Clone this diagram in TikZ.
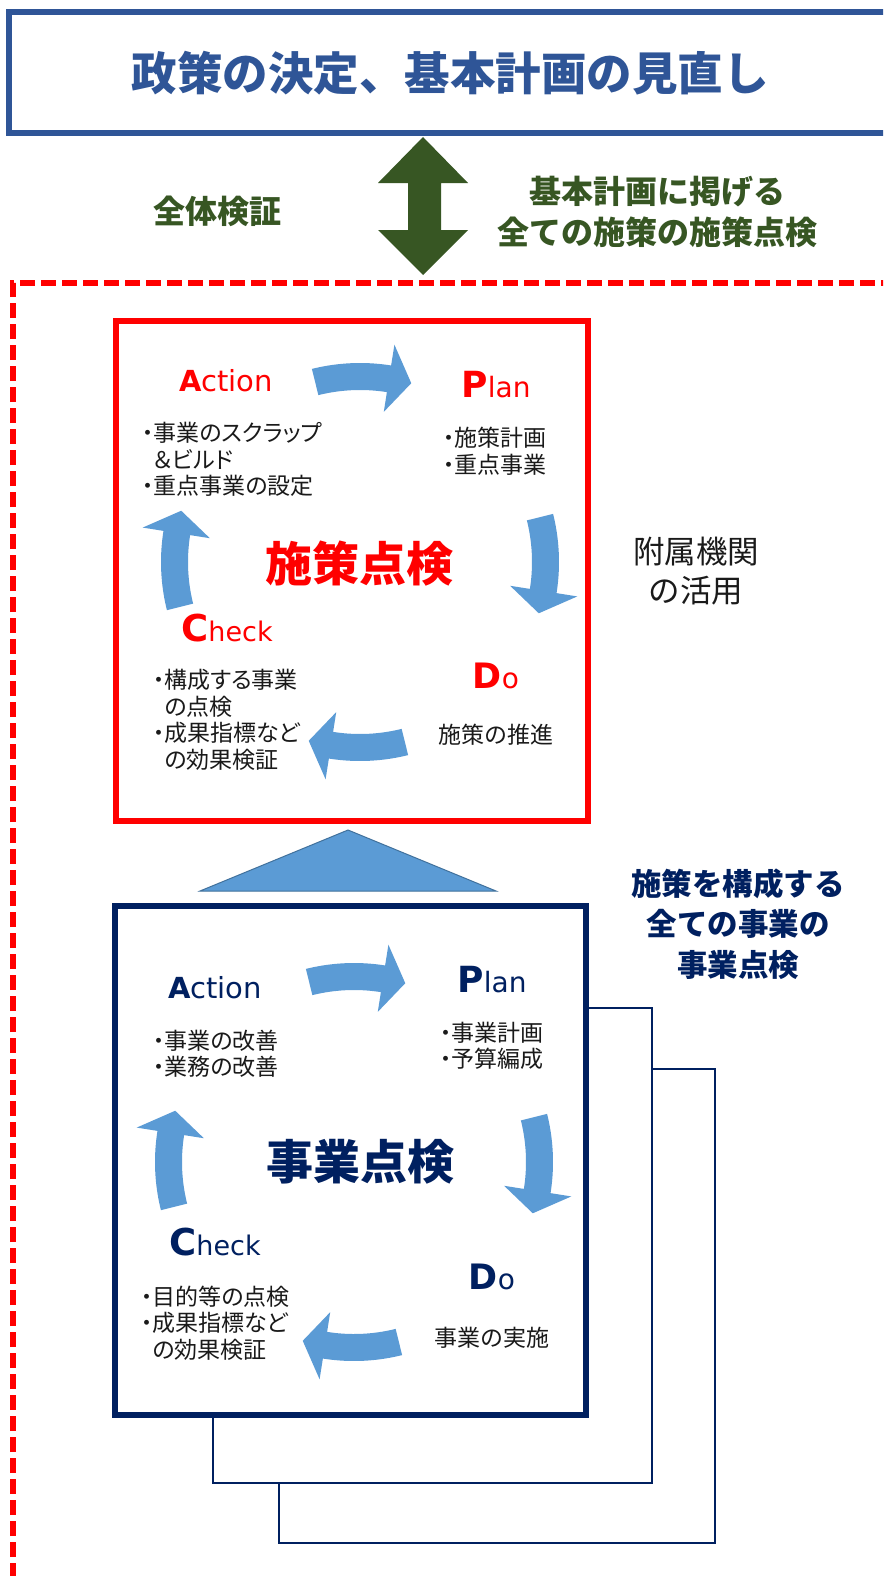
\documentclass[tikz,border=0pt]{standalone}
\usepackage{fontspec}
\setmainfont{Noto Sans CJK JP}
\newfontfamily\jpp[RawFeature=+palt]{Noto Sans CJK JP}
\newfontfamily\lat{DejaVu Sans}
\definecolor{titleblue}{HTML}{2F5597}
\definecolor{darkgreen}{HTML}{375623}
\definecolor{navy}{HTML}{002060}
\definecolor{cycblue}{HTML}{5B9BD5}
\definecolor{cycedge}{HTML}{41719C}
\definecolor{bodytext}{HTML}{1A1A1A}
\newcommand\cycarrow[3]{%
  \pgfmathsetmacro\cta{#3+14}%
  \pgfmathsetmacro\ctb{#3-9}%
  \pgfmathsetmacro\ctc{#3-16}%
  \fill[cycblue] plot[domain=\cta:\ctb, samples=20] ({#1+199*cos(\x)},{#2-199*sin(\x)})
    -- ({#1+220*cos(\ctb)},{#2-220*sin(\ctb)})
    -- ({#1+186*cos(\ctc)},{#2-186*sin(\ctc)})
    -- ({#1+152*cos(\ctb)},{#2-152*sin(\ctb)})
    -- plot[domain=\ctb:\cta, samples=20] ({#1+172*cos(\x)},{#2-172*sin(\x)})
    -- cycle;
}
\newcommand\pdcalabel[4]{% first letter size, first letter, rest size, rest
  {\lat\bfseries\fontsize{#1}{#1}\selectfont #2}{\lat\fontsize{#3}{#3}\selectfont #4}}
\tikzset{
  lbl/.style={inner sep=0pt, outer sep=0pt},
  bul/.style={lbl, anchor=west, align=left, text=bodytext,
    font=\jpp\fontsize{23}{26.5}\selectfont},
  cbody/.style={lbl, text=bodytext, font=\jpp\fontsize{23}{26.5}\selectfont},
  bigtitle/.style={lbl, font=\bfseries\fontsize{47}{47}\selectfont},
  greentext/.style={lbl, text=darkgreen, align=center,
    font=\bfseries\fontsize{32}{41}\selectfont},
  backbox/.style={draw=navy, line width=2pt, fill=white, inner sep=0pt},
}
\begin{document}
\begin{tikzpicture}[x=1pt,y=-1pt]
\useasboundingbox (0,0) rectangle (883,1576);
\clip (0,0) rectangle (883,1576);
\fill[white] (0,0) rectangle (883,1576);

% title box
\node (titlebox) [draw=titleblue, line width=5.5pt, fill=white, inner sep=0pt,
  minimum width=900, minimum height=121] at (459,72.5) {};
\node (title) [lbl, text=titleblue, font=\bfseries\fontsize{45.5}{45.5}\selectfont]
  at (450,73) {政策の決定、基本計画の見直し};

% double arrow
\fill[darkgreen] (423,137) -- (468,183) -- (441,183) -- (441,230) -- (468,230)
  -- (423,275) -- (378,230) -- (408,230) -- (408,183) -- (378,183) -- cycle;
\node (whole) [greentext] at (217,211) {全体検証};
\node (allpol) [greentext] at (657,212) {基本計画に掲げる\\全ての施策の施策点検};

% red dashed region
\draw[red, line width=5.5pt, dash pattern=on 15pt off 6pt]
  (13,1620) -- (13,283) -- (920,283);

% policy check box
\node (polbox) [draw=red, line width=6pt, fill=white, inner sep=0pt,
  minimum width=472, minimum height=500] at (351.5,571) {};
\cycarrow{360}{562}{90}
\cycarrow{360}{562}{0}
\cycarrow{360}{562}{-90}
\cycarrow{360}{562}{180}
\node (pA) [lbl, text=red] at (226,381) {\pdcalabel{29}{A}{29}{ction}};
\node (pP) [lbl, text=red] at (496,385) {\pdcalabel{36}{P}{28}{lan}};
\node (pC) [lbl, text=red] at (227,628) {\pdcalabel{37}{C}{27}{heck}};
\node (pD) [lbl, text=red] at (496,676) {\pdcalabel{35}{D}{28}{o}};
\node (pAt) [bul] at (142,459.5) {・事業のスクラップ\\\phantom{・}＆ビルド\\・重点事業の設定};
\node (pPt) [bul] at (443,451) {・施策計画\\・重点事業};
\node (pCt) [bul] at (153,720) {・構成する事業\\\phantom{・}の点検\\・成果指標など\\\phantom{・}の効果検証};
\node (pDt) [cbody] at (496,735) {施策の推進};
\node (pT) [bigtitle, text=red] at (359,564) {施策点検};

\node (annex) [lbl, text=bodytext, align=center, font=\fontsize{31.5}{39}\selectfont]
  at (696,571) {附属機関\\の活用};

% triangle
\fill[cycblue, draw=cycedge, line width=1pt] (348,830) -- (496,891) -- (200,891) -- cycle;

% stacked back boxes
\node (back3) [backbox, minimum width=436, minimum height=474] at (497,1306) {};
\node (back2) [backbox, minimum width=439, minimum height=475] at (432.5,1245.5) {};

% project check box
\node (projbox) [draw=navy, line width=6.5pt, fill=white, inner sep=0pt,
  minimum width=471, minimum height=509] at (350.5,1160.5) {};
\cycarrow{354}{1162}{90}
\cycarrow{354}{1162}{0}
\cycarrow{354}{1162}{-90}
\cycarrow{354}{1162}{180}
\node (jA) [lbl, text=navy] at (215,988) {\pdcalabel{29}{A}{29}{ction}};
\node (jP) [lbl, text=navy] at (492,980) {\pdcalabel{36}{P}{28}{lan}};
\node (jC) [lbl, text=navy] at (215,1242) {\pdcalabel{37}{C}{27}{heck}};
\node (jD) [lbl, text=navy] at (492,1277) {\pdcalabel{35}{D}{28}{o}};
\node (jAt) [bul] at (153,1054) {・事業の改善\\・業務の改善};
\node (jPt) [bul] at (440,1046) {・事業計画\\・予算編成};
\node (jCt) [bul] at (141,1323) {・目的等の点検\\・成果指標など\\\phantom{・}の効果検証};
\node (jDt) [cbody] at (492,1338) {事業の実施};
\node (jT) [bigtitle, text=navy] at (360,1162) {事業点検};

\node (allproj) [lbl, text=navy, align=center, font=\bfseries\fontsize{30.5}{40.5}\selectfont]
  at (738,924) {施策を構成する\\全ての事業の\\事業点検};
\end{tikzpicture}
\end{document}
